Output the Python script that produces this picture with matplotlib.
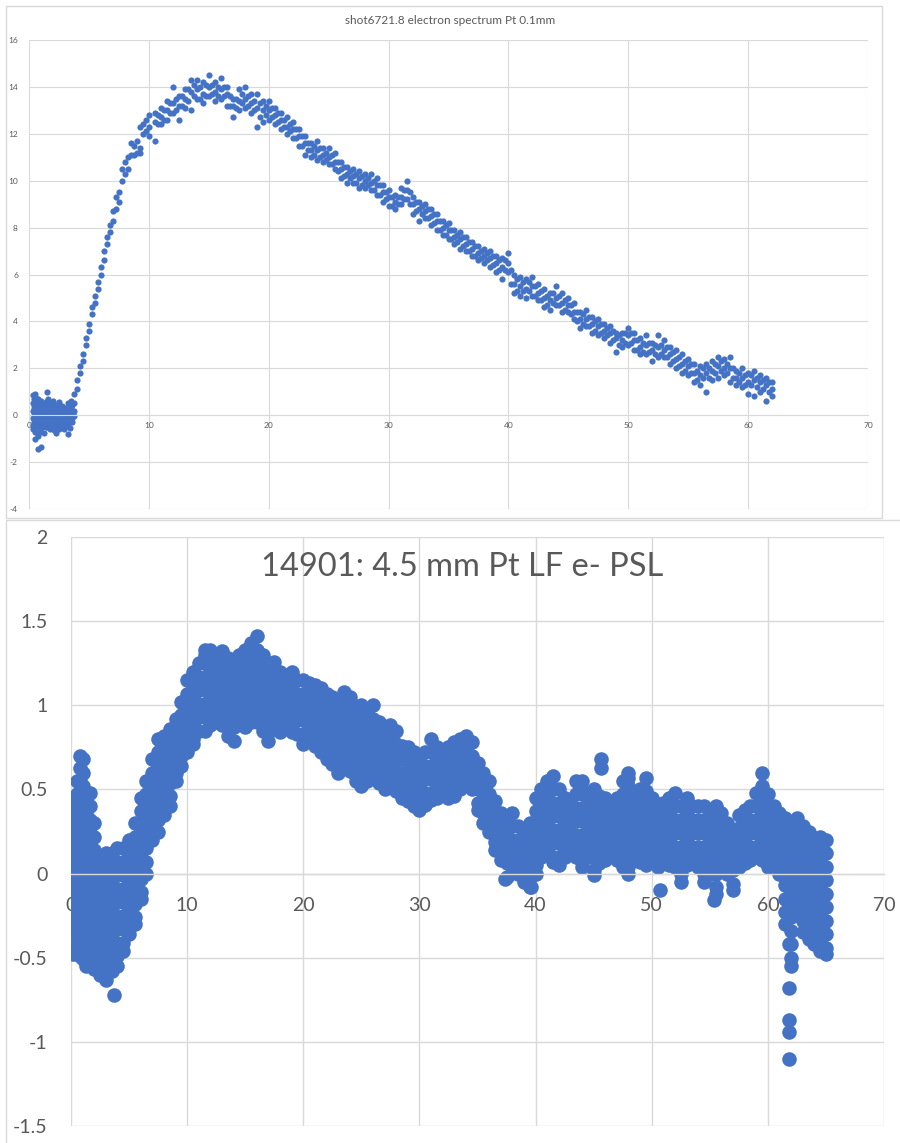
#!/usr/bin/env python3

import matplotlib
matplotlib.use('Agg')
import matplotlib.pyplot as plt
from matplotlib.patches import Rectangle

######################
# Data
######################

# top chart: shot6721.8, x positions of each column and the y values in it
top_noise_x = [0.3, 0.5, 0.75, 1.0, 1.25, 1.5, 1.75, 2.0, 2.25, 2.5, 2.75, 3.0, 3.25, 3.5, 3.75]
top_noise_y = [
    [0.85, 0.5, 0.2, -0.1, -0.4, -0.6],
    [0.9, 0.6, 0.3, 0.0, -0.3, -0.7, -1.0],
    [0.7, 0.4, 0.1, -0.2, -0.5, -0.9, -1.45],
    [0.6, 0.3, 0.0, -0.3, -0.55, -1.35],
    [0.5, 0.2, -0.1, -0.4, -0.75],
    [1.0, 0.6, 0.3, 0.0, -0.3, -0.5],
    [0.5, 0.2, -0.1, -0.4, -0.6],
    [0.6, 0.3, 0.0, -0.3, -0.55],
    [0.45, 0.15, -0.15, -0.45, -0.75],
    [0.55, 0.25, -0.05, -0.35, -0.6],
    [0.4, 0.1, -0.2, -0.5],
    [0.3, 0.05, -0.25, -0.5],
    [0.5, 0.2, -0.1, -0.4, -0.8],
    [0.6, 0.3, 0.05, -0.2],
    [0.9, 0.5, 0.2, -0.05],
]
top_noise2_x = [0.4, 0.6, 0.9, 1.1, 1.4, 1.6, 1.9, 2.1, 2.4, 2.6, 2.9, 3.1, 3.4, 3.6]
top_noise2_y = [
    [0.7, 0.45, 0.3, 0.15, 0.0, -0.15, -0.3, -0.45],
    [0.75, 0.55, 0.4, 0.25, 0.1, -0.05, -0.2, -0.35, -0.5],
    [0.5, 0.35, 0.2, 0.05, -0.1, -0.25, -0.4, -0.7],
    [0.45, 0.3, 0.15, -0.05, -0.2, -0.35, -0.5],
    [0.4, 0.25, 0.1, -0.05, -0.2, -0.35, -0.5],
    [0.7, 0.45, 0.15, -0.15, -0.45],
    [0.35, 0.2, 0.05, -0.1, -0.25, -0.4],
    [0.45, 0.15, -0.15, -0.45, -0.65],
    [0.3, 0.0, -0.3, -0.5],
    [0.4, 0.1, -0.2, -0.45],
    [0.25, -0.1, -0.35, -0.6],
    [0.2, -0.1, -0.35],
    [0.35, 0.05, -0.25, -0.55],
    [0.45, 0.15, -0.1, -0.3],
]

top_rise_x = [4.0, 4.25, 4.5, 4.75, 5.0, 5.25, 5.5, 5.75, 6.0, 6.25, 6.5, 6.75,
              7.0, 7.25, 7.5, 7.75, 8.0, 8.25, 8.5, 8.75, 9.0, 9.25, 9.5, 9.75, 10.0]
top_rise_y = [
    [1.5, 1.1], [2.1, 1.8], [2.6, 2.3], [3.3, 3.0], [3.9, 3.6], [4.6, 4.3],
    [5.1, 4.8], [5.7, 5.4], [6.3, 6.0], [7.0, 6.6], [7.6, 7.3], [8.1, 7.8],
    [8.7, 8.3], [9.3, 8.8], [9.5, 9.1], [10.5, 10.0], [10.8, 10.3], [11.0, 10.5],
    [11.6, 11.1], [11.5, 11.1], [11.7, 11.2], [12.3, 11.4, 11.2], [12.4, 12.0],
    [12.6, 12.1], [12.8, 12.3, 11.9],
]

top_tail_x = [10.5 + 0.5 * i for i in range(104)]
top_tail_y = [
    [12.9, 12.5, 11.7], [13.1, 12.7, 12.4], [13.4, 13.0, 12.6], [14.0, 13.3, 12.9],
    [13.6, 13.2, 12.6], [13.9, 13.5, 13.1], [14.3, 13.8, 13.0], [14.3, 13.9, 13.5],
    [14.2, 13.7, 13.3], [14.5, 14.0, 13.6], [14.2, 13.8, 13.4], [14.4, 13.9, 13.5],
    [14.0, 13.7, 13.2], [13.5, 13.2, 12.7], [13.9, 13.4, 13.0], [14.0, 13.5, 13.1],
    [13.7, 13.3, 12.9], [13.7, 13.1, 12.3], [13.4, 13.0, 12.5], [13.4, 13.0, 12.6],
    [13.1, 12.8, 12.4], [12.9, 12.6, 12.2], [12.7, 12.3, 12.0], [12.5, 12.2, 11.8],
    [12.2, 11.9, 11.5], [11.9, 11.6, 11.1], [11.6, 11.3, 11.0], [11.7, 11.3, 10.9],
    [11.4, 11.1, 10.8], [11.4, 11.0, 10.7], [11.2, 10.8, 10.5], [10.8, 10.5, 10.1],
    [10.6, 10.3, 9.9], [10.5, 10.2, 9.9], [10.4, 10.1, 9.7], [10.3, 10.0, 9.7],
    [10.3, 9.9, 9.6], [10.1, 9.8, 9.4], [9.8, 9.5, 9.1], [9.6, 9.3, 8.9],
    [9.4, 9.1, 8.8], [9.7, 9.3, 9.0], [10.0, 9.6, 9.2], [9.3, 9.0, 8.6],
    [9.1, 8.8, 8.3], [9.0, 8.7, 8.4], [8.8, 8.5, 8.1], [8.6, 8.3, 7.9],
    [8.3, 8.0, 7.7], [8.2, 7.9, 7.5], [7.9, 7.6, 7.3], [7.8, 7.5, 7.1],
    [7.6, 7.3, 7.0], [7.4, 7.1, 6.8], [7.2, 6.9, 6.6], [7.1, 6.8, 6.5],
    [7.0, 6.7, 6.3], [6.8, 6.5, 6.1], [6.7, 6.3, 5.8], [6.9, 6.5, 6.1],
    [6.0, 5.6, 5.2], [5.9, 5.5, 5.1], [5.8, 5.4, 5.0], [5.9, 5.5, 5.1],
    [5.6, 5.2, 4.9], [5.4, 5.0, 4.6], [5.2, 4.9, 4.5], [5.5, 5.0, 4.7],
    [5.2, 4.8, 4.4], [5.0, 4.7, 4.4], [4.8, 4.4, 4.1], [4.4, 4.1, 3.7],
    [4.5, 4.1, 3.8], [4.2, 3.9, 3.5], [4.1, 3.8, 3.4], [3.9, 3.6, 3.3],
    [3.8, 3.5, 3.1], [3.5, 3.3, 2.7], [3.5, 3.2, 2.9], [3.7, 3.4, 3.0],
    [3.5, 3.2, 2.8], [3.3, 2.9, 2.6], [3.4, 3.0, 2.6], [3.1, 2.8, 2.3],
    [3.4, 2.9, 2.5], [3.2, 2.8, 2.5], [2.9, 2.6, 2.2], [2.8, 2.4, 2.0],
    [2.6, 2.2, 1.8], [2.4, 2.1, 1.7], [2.2, 1.8, 1.4], [2.1, 1.7, 1.3],
    [2.2, 1.8, 1.0], [2.3, 1.9, 1.5], [2.5, 2.1, 1.6], [2.4, 2.0, 1.7],
    [2.5, 2.0, 1.4], [1.9, 1.6, 1.3], [2.0, 1.6, 1.2], [1.8, 1.4, 0.9],
    [1.9, 1.5, 0.8], [1.7, 1.4, 1.0], [1.6, 1.3, 0.6], [1.4, 1.1, 0.8],
]

# in-between columns of the top chart tail
top_mid_x = [10.75 + 0.5 * i for i in range(103)]
top_mid_y = [
    [12.8, 12.4], [13.0, 12.6], [13.3, 12.9], [13.5, 13.0], [13.6, 13.2],
    [13.9, 13.4], [14.1, 13.6], [14.0, 13.5], [14.1, 13.6], [14.1, 13.7],
    [14.0, 13.6], [14.0, 13.6], [13.6, 13.2], [13.5, 13.1], [13.7, 13.3],
    [13.6, 13.2], [13.4, 13.0], [13.3, 12.7], [13.2, 12.8], [13.1, 12.7],
    [12.9, 12.5], [12.6, 12.3], [12.4, 12.1], [12.2, 11.8], [11.9, 11.5],
    [11.6, 11.3], [11.5, 11.1], [11.4, 11.0], [11.2, 10.9], [11.1, 10.7],
    [10.8, 10.4], [10.6, 10.2], [10.4, 10.1], [10.3, 9.9], [10.2, 9.8],
    [10.1, 9.8], [10.0, 9.6], [9.8, 9.4], [9.5, 9.2], [9.3, 8.9],
    [9.3, 9.0], [9.6, 9.2], [9.5, 9.0], [9.1, 8.7], [8.9, 8.6],
    [8.8, 8.4], [8.6, 8.2], [8.3, 7.9], [8.1, 7.7], [7.9, 7.5],
    [7.7, 7.4], [7.6, 7.2], [7.4, 7.0], [7.2, 6.8], [7.0, 6.7],
    [6.9, 6.6], [6.8, 6.4], [6.6, 6.2], [6.6, 6.2], [6.2, 5.6],
    [5.8, 5.3], [5.7, 5.3], [5.7, 5.3], [5.5, 5.1], [5.3, 4.9],
    [5.1, 4.7], [5.2, 4.8], [5.1, 4.7], [4.9, 4.5], [4.7, 4.3],
    [4.4, 4.0], [4.3, 3.9], [4.2, 3.8], [4.0, 3.6], [3.9, 3.5],
    [3.7, 3.4], [3.6, 3.2], [3.4, 3.0], [3.5, 3.1], [3.5, 3.1],
    [3.2, 2.8], [3.1, 2.7], [3.1, 2.7], [3.0, 2.6], [3.0, 2.6],
    [2.9, 2.5], [2.7, 2.3], [2.5, 2.1], [2.3, 1.9], [2.2, 1.8],
    [1.9, 1.5], [2.0, 1.6], [2.0, 1.6], [2.2, 1.8], [2.3, 1.9],
    [2.2, 1.8], [2.0, 1.6], [1.8, 1.4], [1.7, 1.3], [1.7, 1.3],
    [1.6, 1.2], [1.5, 1.1], [1.4, 1.0],
]

# bottom chart: shot 14901, columns every 0.5 (denser near 0)
bot_a_x = [0.2, 0.5, 0.8, 1.0, 1.3, 1.6, 2.0, 2.5, 3.0, 3.5, 4.0, 4.5,
           5.0, 5.5, 6.0, 6.5, 7.0, 7.5, 8.0, 8.5, 9.0, 9.5]
bot_a_y = [
    [0.45, 0.37, 0.29, 0.21, 0.13, 0.05, -0.03, -0.11, -0.19, -0.27, -0.35, -0.43, -0.48],
    [0.55, 0.47, 0.39, 0.31, 0.23, 0.15, 0.07, -0.01, -0.09, -0.17, -0.25, -0.33, -0.41, -0.46],
    [0.7, 0.63, 0.55, 0.47, 0.39, 0.31, 0.23, 0.15, 0.07, -0.01, -0.09, -0.17, -0.25, -0.33, -0.41, -0.49],
    [0.68, 0.6, 0.52, 0.44, 0.36, 0.28, 0.2, 0.12, 0.04, -0.04, -0.12, -0.2, -0.28, -0.36, -0.44, -0.51],
    [0.36, 0.28, 0.2, 0.12, 0.04, -0.04, -0.12, -0.2, -0.28, -0.36, -0.44, -0.52, -0.55],
    [0.48, 0.4, 0.32, 0.24, 0.16, 0.08, 0.0, -0.08, -0.16, -0.24, -0.32, -0.4, -0.48, -0.53],
    [0.3, 0.22, 0.14, 0.06, -0.02, -0.1, -0.18, -0.26, -0.34, -0.42, -0.5, -0.57],
    [0.1, 0.02, -0.06, -0.14, -0.22, -0.3, -0.38, -0.46, -0.54, -0.6],
    [0.12, 0.04, -0.04, -0.12, -0.2, -0.28, -0.36, -0.44, -0.52, -0.6, -0.63],
    [0.12, 0.05, -0.03, -0.11, -0.19, -0.27, -0.35, -0.43, -0.51, -0.58],
    [0.15, 0.07, -0.01, -0.09, -0.17, -0.25, -0.33, -0.41, -0.49, -0.55],
    [0.15, 0.07, -0.01, -0.09, -0.17, -0.25, -0.33, -0.41, -0.46],
    [0.2, 0.12, 0.04, -0.04, -0.12, -0.2, -0.28, -0.36],
    [0.3, 0.22, 0.14, 0.06, -0.02, -0.1, -0.18, -0.26, -0.3],
    [0.45, 0.37, 0.29, 0.21, 0.13, 0.05, -0.03, -0.11, -0.15],
    [0.55, 0.47, 0.39, 0.31, 0.23, 0.15, 0.07, 0.0],
    [0.68, 0.6, 0.52, 0.44, 0.36, 0.28, 0.2],
    [0.8, 0.72, 0.64, 0.56, 0.48, 0.4, 0.32, 0.25],
    [0.82, 0.74, 0.66, 0.58, 0.5, 0.42, 0.35],
    [0.86, 0.78, 0.7, 0.62, 0.54, 0.46, 0.4],
    [0.92, 0.84, 0.76, 0.68, 0.6, 0.55],
    [1.02, 0.94, 0.86, 0.78, 0.7, 0.64],
]

bot_b_x = [10.0 + 0.5 * i for i in range(40)]
bot_b_y = [
    [1.15, 1.07, 0.99, 0.91, 0.83, 0.75, 0.72],
    [1.2, 1.12, 1.04, 0.96, 0.88, 0.8, 0.77],
    [1.25, 1.17, 1.09, 1.01, 0.93, 0.85],
    [1.33, 1.25, 1.17, 1.09, 1.01, 0.93, 0.85],
    [1.28, 1.2, 1.12, 1.04, 0.96, 0.88],
    [1.3, 1.22, 1.14, 1.06, 0.98, 0.9],
    [1.32, 1.24, 1.16, 1.08, 1.0, 0.92, 0.88],
    [1.28, 1.2, 1.12, 1.04, 0.96, 0.88, 0.82],
    [1.27, 1.19, 1.11, 1.03, 0.95, 0.87, 0.79],
    [1.3, 1.22, 1.14, 1.06, 0.98, 0.92],
    [1.33, 1.25, 1.17, 1.09, 1.01, 0.93, 0.87],
    [1.37, 1.29, 1.21, 1.13, 1.05, 0.97, 0.9],
    [1.41, 1.33, 1.25, 1.17, 1.09, 1.01, 0.93, 0.9],
    [1.3, 1.22, 1.14, 1.06, 0.98, 0.9, 0.85],
    [1.25, 1.17, 1.09, 1.01, 0.93, 0.85, 0.79],
    [1.26, 1.18, 1.1, 1.02, 0.94, 0.86],
    [1.2, 1.12, 1.04, 0.96, 0.88, 0.84],
    [1.18, 1.1, 1.02, 0.94, 0.88],
    [1.2, 1.12, 1.04, 0.96, 0.88, 0.84],
    [1.15, 1.07, 0.99, 0.91, 0.83],
    [1.15, 1.07, 0.99, 0.91, 0.83, 0.77],
    [1.13, 1.05, 0.97, 0.89, 0.81],
    [1.12, 1.04, 0.96, 0.88, 0.8, 0.76],
    [1.1, 1.02, 0.94, 0.86, 0.78, 0.72],
    [1.07, 0.99, 0.91, 0.83, 0.75, 0.68],
    [1.05, 0.97, 0.89, 0.81, 0.73, 0.65],
    [1.03, 0.95, 0.87, 0.79, 0.71, 0.63, 0.6],
    [1.08, 1.0, 0.92, 0.84, 0.76, 0.68, 0.64],
    [1.05, 0.97, 0.89, 0.81, 0.73, 0.65, 0.61],
    [0.98, 0.9, 0.82, 0.74, 0.66, 0.58, 0.55],
    [1.0, 0.92, 0.84, 0.76, 0.68, 0.6, 0.52],
    [0.95, 0.87, 0.79, 0.71, 0.63, 0.55],
    [1.0, 0.92, 0.84, 0.76, 0.68, 0.6],
    [0.9, 0.82, 0.74, 0.66, 0.58, 0.54],
    [0.86, 0.78, 0.7, 0.62, 0.54, 0.5],
    [0.88, 0.8, 0.72, 0.64, 0.56],
    [0.85, 0.77, 0.69, 0.61, 0.53, 0.49],
    [0.76, 0.68, 0.6, 0.52, 0.45],
    [0.75, 0.67, 0.59, 0.51, 0.43],
    [0.72, 0.64, 0.56, 0.48, 0.4],
]

bot_c_x = [30.0 + 0.5 * i for i in range(40)]
bot_c_y = [
    [0.7, 0.62, 0.54, 0.46, 0.38],
    [0.72, 0.64, 0.56, 0.48, 0.41],
    [0.8, 0.72, 0.64, 0.56, 0.48, 0.44],
    [0.75, 0.67, 0.59, 0.51, 0.45],
    [0.73, 0.65, 0.57, 0.49],
    [0.75, 0.67, 0.59, 0.51, 0.45],
    [0.78, 0.7, 0.62, 0.54, 0.46],
    [0.8, 0.72, 0.64, 0.56, 0.5],
    [0.82, 0.74, 0.66, 0.58, 0.54],
    [0.78, 0.7, 0.62, 0.54, 0.5],
    [0.66, 0.58, 0.5, 0.42, 0.38],
    [0.6, 0.52, 0.44, 0.36, 0.3],
    [0.55, 0.47, 0.39, 0.31, 0.25],
    [0.43, 0.35, 0.27, 0.19, 0.14],
    [0.36, 0.28, 0.2, 0.12, 0.08],
    [0.3, 0.22, 0.14, 0.06, -0.02],
    [0.36, 0.28, 0.2, 0.12, 0.05],
    [0.28, 0.2, 0.12, 0.04, 0.0],
    [0.26, 0.18, 0.1, 0.02, -0.05],
    [0.3, 0.22, 0.14, 0.06, -0.02, -0.08],
    [0.45, 0.37, 0.29, 0.21, 0.13, 0.05, 0.0],
    [0.5, 0.42, 0.34, 0.26, 0.18, 0.1],
    [0.55, 0.47, 0.39, 0.31, 0.23, 0.15, 0.12],
    [0.58, 0.5, 0.42, 0.34, 0.26, 0.18, 0.1, 0.07],
    [0.5, 0.42, 0.34, 0.26, 0.18, 0.1, 0.05],
    [0.45, 0.37, 0.29, 0.21, 0.13, 0.1],
    [0.4, 0.32, 0.24, 0.16, 0.12],
    [0.55, 0.47, 0.39, 0.31, 0.23, 0.15, 0.1],
    [0.55, 0.47, 0.39, 0.31, 0.23, 0.15, 0.07, 0.04],
    [0.48, 0.4, 0.32, 0.24, 0.16, 0.1],
    [0.5, 0.42, 0.34, 0.26, 0.18, 0.1, 0.02, -0.01],
    [0.46, 0.38, 0.3, 0.22, 0.14, 0.06],
    [0.45, 0.37, 0.29, 0.21, 0.13, 0.08],
    [0.4, 0.32, 0.24, 0.16, 0.12],
    [0.45, 0.37, 0.29, 0.21, 0.13, 0.08],
    [0.55, 0.47, 0.39, 0.31, 0.23, 0.15, 0.07, 0.04],
    [0.6, 0.52, 0.44, 0.36, 0.28, 0.2, 0.12, 0.04, 0.0],
    [0.45, 0.37, 0.29, 0.21, 0.13, 0.1],
    [0.5, 0.42, 0.34, 0.26, 0.18, 0.1, 0.07],
    [0.57, 0.49, 0.41, 0.33, 0.25, 0.17, 0.09, 0.05],
]

bot_d_x = [50.0 + 0.5 * i for i in range(31)]
bot_d_y = [
    [0.45, 0.37, 0.29, 0.21, 0.13, 0.07],
    [0.38, 0.3, 0.22, 0.14, 0.06, 0.04],
    [0.42, 0.34, 0.26, 0.18, 0.1, 0.07],
    [0.45, 0.37, 0.29, 0.21, 0.13, 0.05],
    [0.48, 0.4, 0.32, 0.24, 0.16, 0.08, 0.04],
    [0.4, 0.32, 0.24, 0.16, 0.08, 0.0, -0.05],
    [0.45, 0.37, 0.29, 0.21, 0.13, 0.05],
    [0.4, 0.32, 0.24, 0.16, 0.08],
    [0.4, 0.32, 0.24, 0.16, 0.08, 0.04],
    [0.4, 0.32, 0.24, 0.16, 0.08, 0.0, -0.05],
    [0.38, 0.3, 0.22, 0.14, 0.06, 0.0],
    [0.4, 0.32, 0.24, 0.16, 0.08, 0.0, -0.08, -0.12],
    [0.36, 0.28, 0.2, 0.12, 0.04],
    [0.3, 0.22, 0.14, 0.06, 0.0],
    [0.26, 0.18, 0.1, 0.02, -0.06, -0.1],
    [0.35, 0.27, 0.19, 0.11, 0.04],
    [0.38, 0.3, 0.22, 0.14, 0.06],
    [0.4, 0.32, 0.24, 0.16, 0.08],
    [0.48, 0.4, 0.32, 0.24, 0.16, 0.1],
    [0.52, 0.44, 0.36, 0.28, 0.2, 0.12, 0.08],
    [0.47, 0.39, 0.31, 0.23, 0.15, 0.07, 0.04],
    [0.4, 0.32, 0.24, 0.16, 0.08, 0.05],
    [0.36, 0.28, 0.2, 0.12, 0.04, 0.0],
    [0.33, 0.25, 0.17, 0.09, 0.01, -0.07, -0.15, -0.23, -0.3],
    [0.3, 0.22, 0.14, 0.06, -0.02, -0.1, -0.18, -0.26, -0.34, -0.42, -0.5, -0.55],
    [0.33, 0.25, 0.17, 0.09, 0.01, -0.07, -0.15, -0.21],
    [0.28, 0.2, 0.12, 0.04, -0.04, -0.12, -0.2, -0.28, -0.35],
    [0.25, 0.17, 0.09, 0.01, -0.07, -0.15, -0.23, -0.31, -0.39],
    [0.2, 0.12, 0.04, -0.04, -0.12, -0.2, -0.28, -0.36, -0.42],
    [0.22, 0.14, 0.06, -0.02, -0.1, -0.18, -0.26, -0.34, -0.42, -0.46],
    [0.2, 0.12, 0.04, -0.04, -0.12, -0.2, -0.28, -0.36, -0.44, -0.48],
]

bot_out_x = [3.7, 45.6, 45.6, 50.7, 55.4, 59.5, 61.8, 61.8, 61.8, 61.8, 61.8, 37.4, 39.6, 48.0, 12.0, 11.5]
bot_out_y = [-0.72, 0.68, 0.63, -0.1, -0.16, 0.6, -0.42, -0.68, -0.87, -0.94, -1.1, -0.03, -0.08, 0.57, 1.33, 1.3]

top_title = "shot6721.8 electron spectrum Pt 0.1mm"
bot_title = "14901: 4.5 mm Pt LF e- PSL"


def flatten(xs, cols):
    px, py = [], []
    for x, col in zip(xs, cols):
        px += [x] * len(col)
        py += col
    return px, py


BLUE = '#4472C4'
GRID = '#d9d9d9'
TXT = '#595959'
plt.rcParams['font.family'] = ['Lato', 'DejaVu Sans']

W, H = 900, 1143
fig = plt.figure(figsize=(W / 100, H / 100), dpi=100)


def frac(x0, y0, x1, y1):
    # pixel box -> figure fraction [left, bottom, width, height]
    return [x0 / W, 1 - y1 / H, (x1 - x0) / W, (y1 - y0) / H]


def excel_axes(ax, xlim, ylim, xstep, ystep, fs, xpad, ypad, lw):
    ax.set_xlim(*xlim)
    ax.set_ylim(*ylim)
    ax.set_xticks(range(xlim[0], xlim[1] + 1, xstep))
    yt = []
    v = ylim[0]
    while v <= ylim[1] + 1e-9:
        yt.append(v)
        v += ystep
    ax.set_yticks(yt)
    ax.set_yticklabels(['%g' % t for t in yt])
    ax.grid(True, color=GRID, lw=lw)
    ax.set_axisbelow(True)
    for s in ['top', 'right', 'left']:
        ax.spines[s].set_visible(False)
    ax.spines['bottom'].set_position(('data', 0))
    ax.spines['bottom'].set_color(GRID)
    ax.spines['bottom'].set_linewidth(lw)
    ax.tick_params(axis='x', length=0, labelsize=fs, labelcolor=TXT, pad=xpad)
    ax.tick_params(axis='y', length=0, labelsize=fs, labelcolor=TXT, pad=ypad)


# chart borders
fig.add_artist(Rectangle((6 / W, 1 - 518 / H), 876 / W, 512 / H, transform=fig.transFigure,
                         fill=False, ec=GRID, lw=1))
fig.add_artist(Rectangle((6 / W, -0.05), 1.0, 1.05 - 520 / H, transform=fig.transFigure,
                         fill=False, ec=GRID, lw=1))

###################
# top chart
###################
ax1 = fig.add_axes(frac(29, 40, 868, 509))
for xs, ys in [(top_noise_x, top_noise_y), (top_noise2_x, top_noise2_y), (top_rise_x, top_rise_y),
               (top_tail_x, top_tail_y), (top_mid_x, top_mid_y)]:
    px, py = flatten(xs, ys)
    ax1.scatter(px, py, s=20, color=BLUE, linewidths=0)
excel_axes(ax1, (0, 70), (-4, 16), 10, 2, 6, 5, 8, 0.8)
fig.text(450 / W, 1 - 20 / H, top_title, ha='center', va='center', fontsize=8.5, color=TXT)

###################
# bottom chart
###################
ax2 = fig.add_axes(frac(71, 537, 884, 1126))
for xs, ys in [(bot_a_x, bot_a_y), (bot_b_x, bot_b_y), (bot_c_x, bot_c_y), (bot_d_x, bot_d_y)]:
    px, py = flatten(xs, ys)
    ax2.scatter(px, py, s=110, color=BLUE, linewidths=0)
ax2.scatter(bot_out_x, bot_out_y, s=110, color=BLUE, linewidths=0)
excel_axes(ax2, (0, 70), (-1.5, 2), 10, 0.5, 14, 17, 17, 1.0)
ax2.text((462 - 71) / 813, (1126 - 567) / 589, bot_title, transform=ax2.transAxes,
         ha='center', va='center', fontsize=23.5, color=TXT)

fig.savefig('out.png', dpi=100)
